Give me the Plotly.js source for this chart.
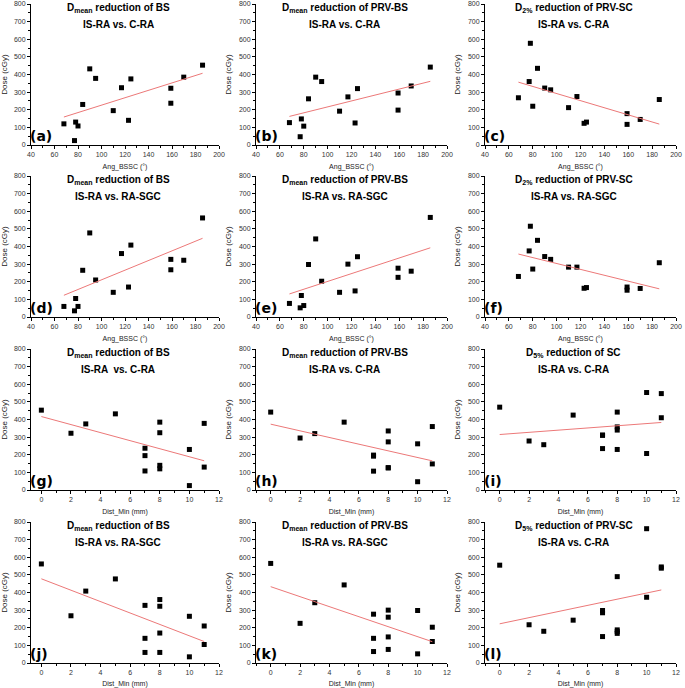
<!DOCTYPE html>
<html><head><meta charset="utf-8">
<script src="https://cdn.plot.ly/plotly-3.0.1.min.js"></script>
<style>html,body{margin:0;padding:0;background:#fff}#chart{width:685px;height:688px}</style>
</head><body><div id="chart"></div>
<script>
// Patient-level predictors (same 15 patients in every panel)
const angBSSC = [68, 77, 78, 80, 84, 90, 95, 110, 117, 123, 125, 159, 159, 170, 186];
const distMin = [8, 10, 11, 7, 10, 5, 11, 7, 8, 8, 3, 2, 7, 8, 0];

// Dose reductions (cGy), in the same patient order
const dmeanBS_CRA     = [120, 25, 130, 108, 230, 432, 378, 195, 325, 140, 375, 322, 237, 385, 453];
const dmeanPRVBS_CRA  = [127, 47, 148, 107, 262, 385, 360, 192, 273, 125, 320, 295, 198, 335, 442];
const d2PRVSC_CRA     = [268, 360, 577, 220, 435, 323, 313, 212, 275, 123, 130, 178, 117, 145, 258];
const dmeanBS_SGC     = [60, 35, 105, 60, 265, 477, 210, 140, 360, 170, 408, 268, 327, 322, 562];
const dmeanPRVBS_SGC  = [77, 52, 122, 65, 298, 443, 203, 140, 300, 148, 342, 225, 277, 260, 565];
const d2PRVSC_SGC     = [230, 375, 515, 272, 435, 343, 327, 283, 283, 163, 167, 170, 152, 162, 308];
const d5SC_CRA        = [442, 207, 547, 312, 553, 425, 410, 235, 358, 340, 257, 278, 310, 230, 470];
const d5PRVSC_CRA     = [490, 373, 545, 298, 762, 243, 538, 285, 188, 178, 180, 217, 150, 168, 555];

// Panel texts
const panelLabels = ['(a)','(b)','(c)','(d)','(e)','(f)','(g)','(h)','(i)','(j)','(k)','(l)'];
const titleLine1 = [
  'D<sub>mean</sub> reduction of BS', 'D<sub>mean</sub> reduction of PRV-BS', 'D<sub>2%</sub> reduction of PRV-SC',
  'D<sub>mean</sub> reduction of BS', 'D<sub>mean</sub> reduction of PRV-BS', 'D<sub>2%</sub> reduction of PRV-SC',
  'D<sub>mean</sub> reduction of BS', 'D<sub>mean</sub> reduction of PRV-BS', 'D<sub>5%</sub> reduction of SC',
  'D<sub>mean</sub> reduction of BS', 'D<sub>mean</sub> reduction of PRV-BS', 'D<sub>5%</sub> reduction of PRV-SC'
];
const titleLine2 = [
  'IS-RA vs. C-RA', 'IS-RA vs. C-RA', 'IS-RA vs. C-RA',
  'IS-RA vs. RA-SGC', 'IS-RA vs. RA-SGC', 'IS-RA vs. RA-SGC',
  'IS-RA  vs. C-RA', 'IS-RA vs. C-RA', 'IS-RA vs. C-RA',
  'IS-RA vs. RA-SGC', 'IS-RA vs. RA-SGC', 'IS-RA vs. C-RA'
];
const xTitleAng = 'Ang_BSSC (°)';
const xTitleDist = 'Dist_Min (mm)';
const yTitle = 'Dose (cGy)';
const yTickVals = [0, 100, 200, 300, 400, 500, 600, 700, 800];

const panelY = [
  dmeanBS_CRA, dmeanPRVBS_CRA, d2PRVSC_CRA,
  dmeanBS_SGC, dmeanPRVBS_SGC, d2PRVSC_SGC,
  dmeanBS_CRA, dmeanPRVBS_CRA, d5SC_CRA,
  dmeanBS_SGC, dmeanPRVBS_SGC, d5PRVSC_CRA
];

// Layout geometry (pixels)
const W = 685, H = 688;
const colPx = [[31, 219], [256, 447], [485, 676]];
const rowPx = [[4, 145], [176, 317], [349, 490], [522, 663]];

function linfit(x, y) {
  const n = x.length;
  const mx = x.reduce((a, b) => a + b, 0) / n;
  const my = y.reduce((a, b) => a + b, 0) / n;
  let sxy = 0, sxx = 0;
  for (let i = 0; i < n; i++) { sxy += (x[i] - mx) * (y[i] - my); sxx += (x[i] - mx) ** 2; }
  const b = sxy / sxx;
  return { b: b, a: my - b * mx };
}

const traces = [];
const layout = {
  width: W, height: H,
  margin: { l: 0, r: 0, t: 0, b: 0 },
  paper_bgcolor: '#fff', plot_bgcolor: '#fff',
  showlegend: false,
  font: { family: 'Liberation Sans, Arial, sans-serif', color: '#111' },
  annotations: []
};

for (let i = 0; i < 12; i++) {
  const row = Math.floor(i / 3), col = i % 3;
  const isAng = row < 2;
  const xs = isAng ? angBSSC : distMin;
  const ys = panelY[i];
  const sfx = i === 0 ? '' : String(i + 1);
  const xa = 'x' + sfx, ya = 'y' + sfx;

  traces.push({
    type: 'scatter', mode: 'markers', x: xs, y: ys, xaxis: xa, yaxis: ya,
    marker: { symbol: 'square', size: 5, color: '#000' }, hoverinfo: 'x+y'
  });
  const f = linfit(xs, ys);
  const xmin = Math.min(...xs), xmax = Math.max(...xs);
  traces.push({
    type: 'scatter', mode: 'lines', x: [xmin, xmax], y: [f.a + f.b * xmin, f.a + f.b * xmax],
    xaxis: xa, yaxis: ya, line: { color: 'rgb(236,120,120)', width: 1 }, hoverinfo: 'skip'
  });

  const axCommon = {
    showline: true, linecolor: '#000', linewidth: 1, mirror: false,
    showgrid: false, zeroline: false,
    ticks: 'outside', ticklen: 3, tickwidth: 1, tickcolor: '#000',
    tickfont: { size: 7, color: '#333', family: 'Liberation Sans, Arial, sans-serif' },
    fixedrange: true
  };
  const xd = [colPx[col][0] / W, colPx[col][1] / W];
  const yd = [1 - rowPx[row][1] / H, 1 - rowPx[row][0] / H];

  layout['xaxis' + sfx] = Object.assign({}, axCommon, {
    domain: xd, anchor: ya,
    range: isAng ? [40, 200] : [col === 0 ? -0.7 : -1, 12],
    tick0: isAng ? 40 : 0, dtick: isAng ? 20 : 2,
    minor: { ticks: 'outside', ticklen: 2, tickcolor: '#000', dtick: isAng ? 10 : 1 },
    title: { text: isAng ? xTitleAng : xTitleDist, standoff: 6,
             font: { size: 7, color: '#222' } }
  });
  layout['yaxis' + sfx] = Object.assign({}, axCommon, {
    domain: yd, anchor: xa,
    range: [0, 800], tickvals: yTickVals,
    minor: { ticks: 'outside', ticklen: 2, tickcolor: '#000', dtick: 50 },
    title: { text: yTitle, standoff: 6, font: { size: 8, color: '#222' } }
  });

  // Panel titles (two lines)
  layout.annotations.push({
    xref: xa + ' domain', yref: ya + ' domain', x: 0.465, y: 1, yshift: -4,
    xanchor: 'center', yanchor: 'middle', showarrow: false,
    text: titleLine1[i], font: { size: 10, weight: 'bold', color: '#000' }
  });
  layout.annotations.push({
    xref: xa + ' domain', yref: ya + ' domain', x: 0.465, y: 1, yshift: -20,
    xanchor: 'center', yanchor: 'middle', showarrow: false,
    text: titleLine2[i], font: { size: 10, weight: 'bold', color: '#000' }
  });
  // Panel label
  layout.annotations.push({
    xref: xa + ' domain', yref: ya + ' domain', x: 0, y: 0, xshift: -3, yshift: -1,
    xanchor: 'left', yanchor: 'bottom', showarrow: false,
    text: panelLabels[i],
    font: { size: 14, weight: 'bold', color: '#000', family: 'DejaVu Sans, sans-serif' }
  });
}

Plotly.newPlot('chart', traces, layout, { staticPlot: true, displayModeBar: false });
</script>
</body></html>
